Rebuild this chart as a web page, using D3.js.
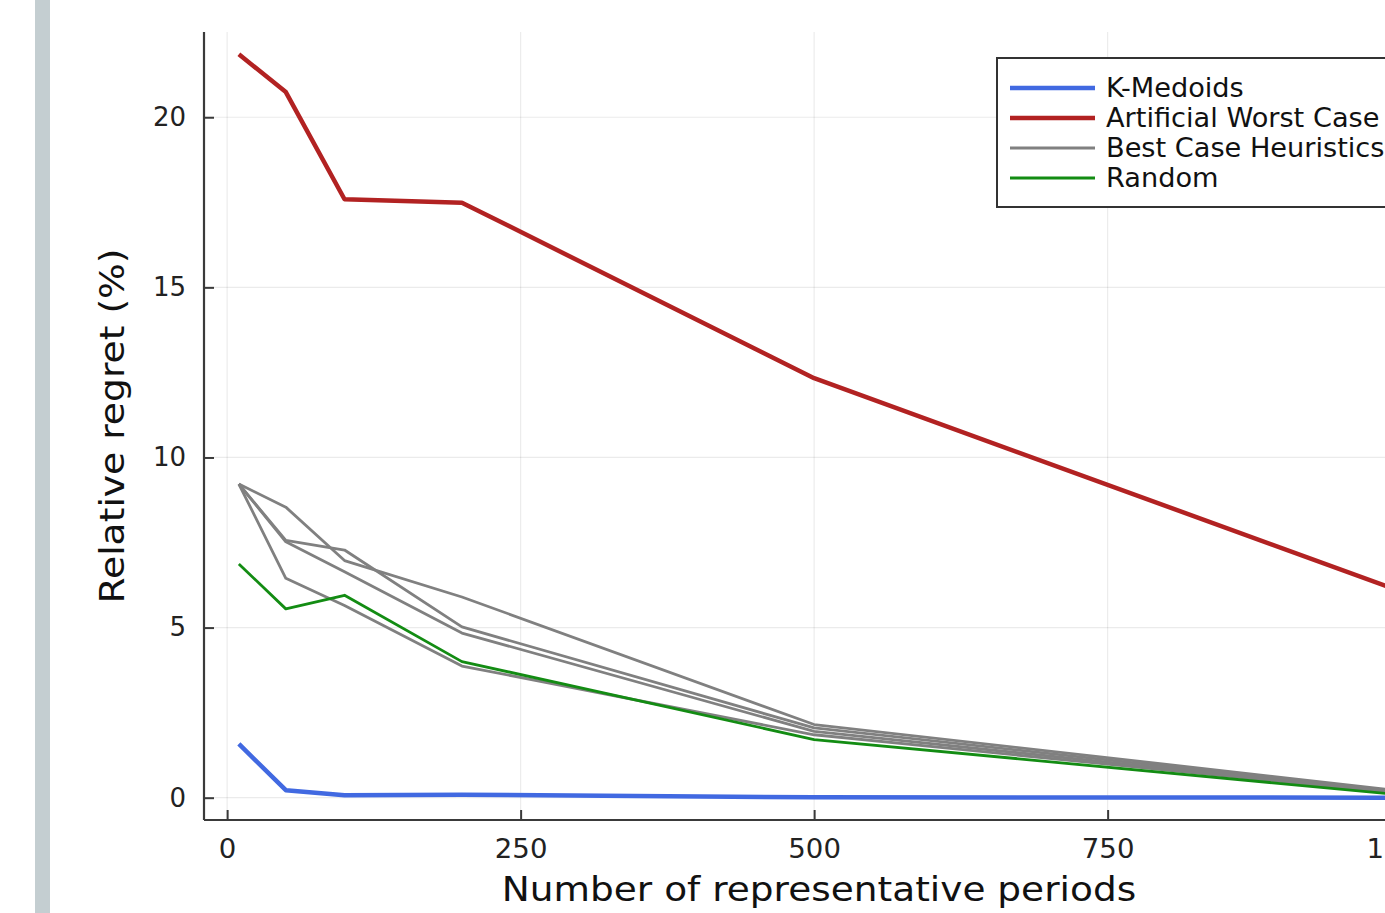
<!DOCTYPE html>
<html>
<head>
<meta charset="utf-8">
<script src="https://cdn.jsdelivr.net/npm/d3@7"></script>
<style>
  html, body { margin: 0; padding: 0; background: #fff; overflow: hidden; }
  svg { display: block; font-family: "DejaVu Sans", sans-serif; }
</style>
</head>
<body>
<svg id="chart" width="1385" height="913"></svg>
<script>
// Number of representative periods (x values shared by every series)
const periods = [10, 50, 100, 200, 500, 1000];

// Relative regret (%) per method
const kMedoids = [1.58, 0.22, 0.07, 0.09, 0.01, 0.0];
const artificialWorstCase = [21.85, 20.74, 17.59, 17.49, 12.33, 6.06];
const randomSelection = [6.87, 5.55, 5.95, 4.0, 1.71, 0.08];

// Best-case heuristic runs (several, drawn in the same style)
const heuristicA = [9.22, 8.54, 6.97, 5.9, 2.15, 0.2];
const heuristicB = [9.22, 7.56, 7.28, 5.02, 2.05, 0.17];
const heuristicC = [9.22, 7.52, 6.64, 4.84, 1.95, 0.14];
const heuristicD = [9.22, 6.45, 5.65, 3.87, 1.85, 0.12];

const xTicks = [0, 250, 500, 750, 1000];
const yTicks = [0, 5, 10, 15, 20];

const legendLabels = ["K-Medoids", "Artificial Worst Case", "Best Case Heuristics", "Random"];

const svg = d3.select("#chart");

// widen a text element horizontally by a given factor
function widen(sel, factor) {
  sel.each(function () {
    const n = this.getComputedTextLength();
    d3.select(this).attr("textLength", n * factor).attr("lengthAdjust", "spacingAndGlyphs");
  });
}

// side strip
svg.append("rect").attr("x", 35).attr("y", 0).attr("width", 15).attr("height", 913)
  .attr("fill", "#c4ced1");

const plotL = 204, plotR = 1436, plotT = 32, plotB = 820;

function padded(ext) {
  const span = ext[1] - ext[0];
  return [ext[0] - 0.03 * span, ext[1] + 0.03 * span];
}
const allY = [].concat(kMedoids, artificialWorstCase, randomSelection,
  heuristicA, heuristicB, heuristicC, heuristicD);

const x = d3.scaleLinear().domain(padded(d3.extent(periods))).range([plotL, plotR]);
const y = d3.scaleLinear().domain(padded([0, d3.max(allY)])).range([plotB, plotT]);

// grid
const grid = svg.append("g");
grid.selectAll("line.gx").data(xTicks).join("line")
  .attr("x1", d => x(d)).attr("x2", d => x(d)).attr("y1", plotT).attr("y2", plotB)
  .attr("stroke", "#000").attr("stroke-opacity", 0.08).attr("stroke-width", 1.2);
grid.selectAll("line.gy").data(yTicks).join("line")
  .attr("x1", plotL).attr("x2", plotR).attr("y1", d => y(d)).attr("y2", d => y(d))
  .attr("stroke", "#000").attr("stroke-opacity", 0.08).attr("stroke-width", 1.2);

// series
const line = d3.line().x((d, i) => x(periods[i])).y(d => y(d));
const series = [
  { v: kMedoids, c: "#4169e1", w: 4.5 },
  { v: artificialWorstCase, c: "#b22222", w: 4.5 },
  { v: heuristicA, c: "#808080", w: 2.8 },
  { v: heuristicB, c: "#808080", w: 2.8 },
  { v: heuristicC, c: "#808080", w: 2.8 },
  { v: heuristicD, c: "#808080", w: 2.8 },
  { v: randomSelection, c: "#138c13", w: 2.8 }
];
svg.append("g").selectAll("path").data(series).join("path")
  .attr("d", d => line(d.v)).attr("fill", "none")
  .attr("stroke", d => d.c).attr("stroke-width", d => d.w)
  .attr("stroke-linejoin", "round");

// axes
const axisColor = "#3a3a3a";
const xAxis = svg.append("g").attr("transform", `translate(0,${plotB})`)
  .call(d3.axisBottom(x).tickValues(xTicks).tickSize(-10).tickPadding(20).tickFormat(d3.format("d")));
const yAxis = svg.append("g").attr("transform", `translate(${plotL},0)`)
  .call(d3.axisLeft(y).tickValues(yTicks).tickSize(-10).tickPadding(18).tickFormat(d3.format("d")));
[xAxis, yAxis].forEach(a => {
  a.select(".domain").attr("stroke", axisColor).attr("stroke-width", 2.2);
  a.selectAll(".tick line").attr("stroke", axisColor).attr("stroke-width", 2);
  a.selectAll(".tick text").attr("fill", "#222").style("font-size", "26px")
    .style("font-family", "DejaVu Sans, sans-serif");
});
xAxis.select(".domain").attr("d", `M${plotL},0H${plotR}`);
yAxis.select(".domain").attr("d", `M0,${plotT}V${plotB}`);
widen(xAxis.selectAll(".tick text"), 1.06);

// axis titles
const xTitle = svg.append("text").attr("x", 819).attr("y", 901)
  .attr("text-anchor", "middle").attr("fill", "#111").style("font-size", "33px")
  .text("Number of representative periods");
widen(xTitle, 1.135);
const yTitle = svg.append("text").attr("transform", `translate(124,426) rotate(-90)`)
  .attr("text-anchor", "middle").attr("fill", "#111").style("font-size", "33px")
  .text("Relative regret (%)");
widen(yTitle, 1.14);

// legend
const leg = svg.append("g");
leg.append("rect").attr("x", 997).attr("y", 58).attr("width", 440).attr("height", 149)
  .attr("fill", "#fff").attr("stroke", "#333").attr("stroke-width", 2);
const legStyles = [series[0], series[1], series[2], series[6]];
legendLabels.forEach((lab, i) => {
  const yy = 88 + i * 30;
  leg.append("line").attr("x1", 1010).attr("x2", 1095).attr("y1", yy).attr("y2", yy)
    .attr("stroke", legStyles[i].c).attr("stroke-width", i < 2 ? 4.5 : 2.8);
  const t = leg.append("text").attr("x", 1106).attr("y", yy).attr("dy", "0.35em")
    .attr("fill", "#111").style("font-size", "26px").text(lab);
  widen(t, 1.045);
});
</script>
</body>
</html>
